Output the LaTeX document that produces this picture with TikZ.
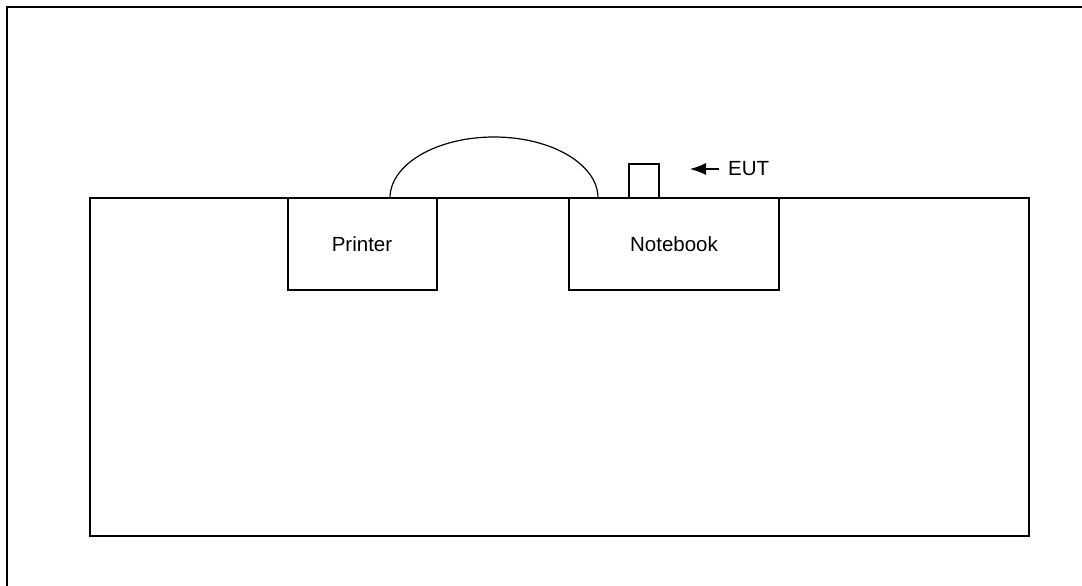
\documentclass[tikz,border=0pt]{standalone}
\usepackage{fontspec}
\setmainfont{Liberation Sans}
\usetikzlibrary{arrows.meta}
\begin{document}
\begin{tikzpicture}[x=1pt,y=-1pt,
  line/.style={draw=black,line width=1.2pt},
  lbl/.style={font=\fontsize{20.5}{24}\selectfont,inner sep=0pt}]
\useasboundingbox (0,0) rectangle (1082,586);
\clip (0,0) rectangle (1082,586);
\draw[line width=2.8pt] (7,7) rectangle (1100,610);
% table
\draw[line] (90,198) rectangle (1029,536);
% printer
\draw[line] (288,198) rectangle (437,290);
\node[lbl] (printer) at (362,244) {Printer};
% notebook
\draw[line] (569,198) rectangle (779,290);
\node[lbl] (notebook) at (674,244) {Notebook};
% EUT box
\draw[line] (629,164) rectangle (659,198);
\coordinate (c1) at (390,198);
\coordinate (c2) at (598,198);
\draw[line] (c1) arc[start angle=180,end angle=360,x radius=104,y radius=61];
\node[lbl,anchor=west] (eut) at (728,169) {EUT};
\coordinate (tail) at (719,169);
\coordinate (tip) at (690,169);
\draw[line,-{Latex[length=16pt,width=12pt]}] (tail) -- (tip);
\end{tikzpicture}
\end{document}
